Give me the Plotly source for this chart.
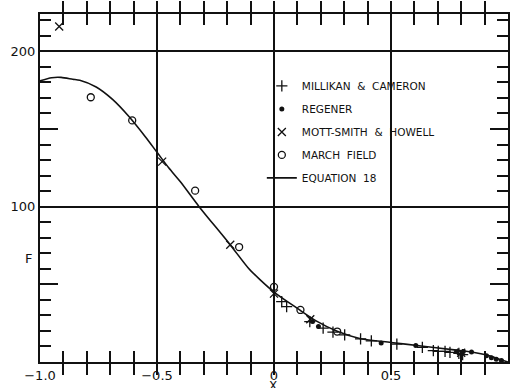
import plotly.graph_objects as go

# Equation 18 curve
eq_x = [-1.0, -0.95, -0.91, -0.86, -0.83, -0.76, -0.69, -0.62, -0.55, -0.50, -0.45,
        -0.40, -0.32, -0.19, -0.11, -0.06, 0.0, 0.10, 0.18, 0.27, 0.37, 0.50, 0.62,
        0.77, 0.85, 0.91, 0.96, 1.0]
eq_y = [181, 183, 183.2, 182, 181.3, 177, 169, 158, 145, 135, 125,
        116, 100, 76, 60.5, 53, 45, 34.5, 26.5, 19.8, 15.0, 12.6, 10.5,
        7.8, 6.3, 4.5, 2.0, 0]

# Millikan & Cameron (+)
mc_x = [0.033, 0.054, 0.153, 0.21, 0.252, 0.302, 0.37, 0.416, 0.525, 0.634,
        0.681, 0.702, 0.731, 0.752, 0.79, 0.806]
mc_y = [38.8, 35.6, 26.0, 21.8, 19.2, 17.5, 14.9, 13.6, 11.5, 9.4,
        7.3, 6.8, 6.8, 6.2, 5.5, 4.7]

# Regener (filled dots)
rg_x = [0.164, 0.19, 0.458, 0.606, 0.78, 0.809, 0.844, 0.908, 0.929, 0.95, 0.972]
rg_y = [26.0, 22.8, 12.2, 10.6, 6.6, 6.8, 6.4, 4.1, 2.8, 1.8, 0.9]

# Mott-Smith & Howell (x)
ms_x = [-0.918, -0.478, -0.187, 0.0, 0.155, 0.80]
ms_y = [216, 129, 75.5, 44, 27.5, 6.0]

# March Field (open circles)
mf_x = [-0.783, -0.606, -0.337, -0.149, 0.0, 0.113, 0.27]
mf_y = [170.4, 155.5, 110.3, 74.0, 48.4, 33.5, 19.6]

# Axis ticks / labels
x_ticks = [-1.0, -0.9, -0.8, -0.7, -0.6, -0.5, -0.4, -0.3, -0.2, -0.1, 0.0,
           0.1, 0.2, 0.3, 0.4, 0.5, 0.6, 0.7, 0.8, 0.9, 1.0]
x_ticktext = ["\u22121.0", "", "", "", "", "\u22120.5", "", "", "", "", "0",
              "", "", "", "", "0.5", "", "", "", "", "1.0"]
x_grid = [-0.5, 0.0, 0.5]
y_ticks = [0, 10, 20, 30, 40, 50, 60, 70, 80, 90, 100, 110, 120, 130, 140,
           150, 160, 170, 180, 190, 200, 210, 220]
y_ticktext = ["", "", "", "", "", "", "", "", "", "", "100", "", "", "", "",
              "", "", "", "", "", "200", "", ""]
y_long_ticks = [50, 150]
y_grid = [100, 200]

FONT = "DejaVu Sans"
INK = "#111111"

fig = go.Figure()

fig.add_trace(go.Scatter(
    x=mc_x, y=mc_y, mode="markers", name="MILLIKAN\u00a0 &\u00a0 CAMERON",
    legendgroup="a", legendrank=1,
    marker=dict(symbol="cross-thin-open", size=8, line=dict(color=INK, width=1.3), color=INK)))
fig.add_trace(go.Scatter(
    x=rg_x, y=rg_y, mode="markers", name="REGENER",
    legendgroup="b", legendrank=2,
    marker=dict(symbol="circle", size=5, color=INK)))
fig.add_trace(go.Scatter(
    x=ms_x, y=ms_y, mode="markers", name="MOTT-SMITH\u00a0 &\u00a0 HOWELL",
    legendgroup="c", legendrank=3, yaxis="y2",
    marker=dict(symbol="x-thin-open", size=8, line=dict(color=INK, width=1.3), color=INK)))
fig.add_trace(go.Scatter(
    x=mf_x, y=mf_y, mode="markers", name="MARCH\u00a0 FIELD",
    legendgroup="d", legendrank=4,
    marker=dict(symbol="circle-open", size=7, line=dict(color=INK, width=1.3), color=INK)))
fig.add_trace(go.Scatter(
    x=eq_x, y=eq_y, mode="lines", name="EQUATION\u00a0 18", xaxis="x2", yaxis="y3",
    legendgroup="e", legendrank=5,
    line=dict(color=INK, width=1.6, shape="spline", smoothing=0.8)))

tick_axis = dict(
    showline=True, linewidth=2.2, linecolor=INK, mirror="allticks",
    ticks="inside", tickcolor=INK, tickwidth=1.5, zeroline=False, showgrid=False,
)
grid_axis = dict(
    showline=False, ticks="", showticklabels=False, zeroline=False,
    showgrid=True, gridcolor=INK, gridwidth=1.5,
)

fig.update_layout(
    width=515, height=388,
    margin=dict(l=40, r=5, t=14, b=24),
    paper_bgcolor="white", plot_bgcolor="white",
    font=dict(family=FONT, color=INK, size=12),
    showlegend=True,
    legend=dict(
        x=0.474, y=0.835, xanchor="left", yanchor="top",
        bgcolor="rgba(0,0,0,0)", borderwidth=0,
        font=dict(family=FONT, size=10.5, color=INK),
        traceorder="grouped", tracegroupgap=4,
    ),
    xaxis=dict(
        range=[-1.0, 1.0], tickmode="array", tickvals=x_ticks, ticktext=x_ticktext,
        ticklen=11, tickfont=dict(family=FONT, size=13), **tick_axis,
    ),
    xaxis2=dict(
        range=[-1.0, 1.0], overlaying="x", anchor="y", side="bottom",
        tickmode="array", tickvals=x_grid, **grid_axis,
    ),
    yaxis=dict(
        range=[0, 224], tickmode="array", tickvals=y_ticks, ticktext=y_ticktext,
        ticklen=11, tickfont=dict(family=FONT, size=13), **tick_axis,
    ),
    yaxis2=dict(
        range=[0, 224], overlaying="y", anchor="x", side="left",
        tickmode="array", tickvals=y_long_ticks, showticklabels=False, ticklen=18,
        **tick_axis,
    ),
    yaxis3=dict(
        range=[0, 224], overlaying="y", anchor="x", side="left",
        tickmode="array", tickvals=y_grid, **grid_axis,
    ),
    annotations=[
        dict(text="F", x=-0.036, y=0.269, xref="paper", yref="paper",
             showarrow=False, font=dict(family=FONT, size=13, color=INK)),
        dict(text="X", x=0.498, y=-0.0686, xref="paper", yref="paper",
             showarrow=False, yanchor="middle", font=dict(family=FONT, size=12, color=INK)),
    ],
)

fig.write_html("out.html")
